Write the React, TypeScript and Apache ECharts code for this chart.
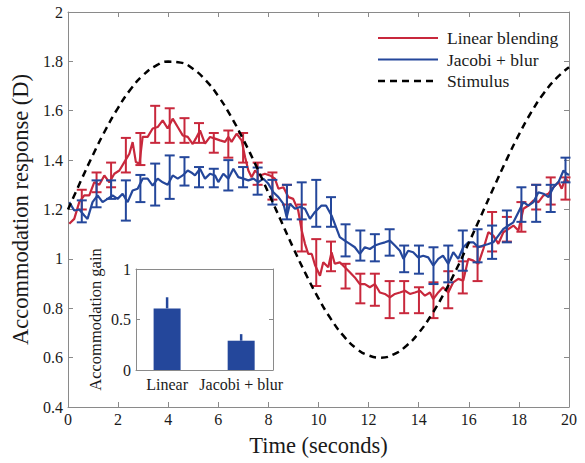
import React, { useEffect, useRef } from "react";
import * as echarts from "echarts";

const FONT = "'Liberation Serif', 'Times New Roman', serif";
const RED = "#c8283c";
const BLUE = "#24479b";
const AXIS = "#8a8a8a";

const linearTime = [0.05,0.25,0.45,0.65,0.85,1.05,1.25,1.45,1.65,1.85,2.05,2.25,2.45,2.58,2.71,2.85,2.98,3.18,3.38,3.58,3.78,3.98,4.18,4.38,4.58,4.78,4.98,5.1,5.27,5.47,5.67,5.87,6.07,6.27,6.4,6.53,6.73,6.93,7.07,7.2,7.33,7.47,7.67,7.86,8.06,8.26,8.4,8.6,8.8,8.99,9.19,9.33,9.46,9.59,9.73,9.86,10.06,10.19,10.39,10.52,10.65,10.85,11.05,11.25,11.45,11.65,11.85,12.05,12.25,12.45,12.65,12.85,13.05,13.25,13.45,13.65,13.85,14.05,14.25,14.45,14.58,14.78,14.97,15.18,15.38,15.58,15.78,15.98,16.18,16.38,16.58,16.78,16.98,17.18,17.38,17.58,17.78,17.98,18.18,18.38,18.58,18.78,18.98,19.18,19.38,19.58,19.71,19.85,20.0];
const linearResponse = [1.142,1.162,1.23,1.257,1.257,1.311,1.3,1.338,1.31,1.345,1.358,1.392,1.426,1.473,1.392,1.385,1.494,1.494,1.528,1.534,1.561,1.528,1.568,1.534,1.5,1.494,1.465,1.487,1.52,1.467,1.494,1.487,1.48,1.474,1.494,1.474,1.507,1.48,1.412,1.358,1.331,1.358,1.338,1.345,1.338,1.325,1.284,1.29,1.25,1.243,1.196,1.115,1.061,1.02,1.02,0.975,0.932,0.986,0.966,1.027,0.98,0.986,0.966,0.946,0.925,0.898,0.898,0.885,0.898,0.864,0.858,0.844,0.858,0.864,0.871,0.858,0.864,0.871,0.851,0.864,0.837,0.864,0.885,0.864,0.905,0.919,0.912,1.0,0.993,0.98,1.04,1.108,1.094,1.061,1.108,1.121,1.135,1.115,1.203,1.216,1.236,1.23,1.257,1.264,1.29,1.311,1.284,1.325,1.31];

const jacobiTime = [0.05,0.25,0.45,0.65,0.78,0.98,1.18,1.38,1.58,1.78,1.98,2.18,2.38,2.58,2.78,2.98,3.18,3.38,3.58,3.78,3.98,4.18,4.38,4.58,4.78,4.92,5.07,5.27,5.47,5.67,5.87,6.0,6.2,6.4,6.6,6.8,7.0,7.2,7.4,7.6,7.8,8.0,8.2,8.4,8.6,8.73,8.86,9.06,9.26,9.46,9.66,9.86,10.12,10.3,10.52,10.65,10.85,11.05,11.25,11.45,11.65,11.85,12.05,12.25,12.45,12.65,12.85,13.05,13.25,13.39,13.58,13.78,13.98,14.18,14.38,14.58,14.78,14.97,15.18,15.38,15.58,15.78,15.98,16.18,16.38,16.58,16.78,16.98,17.18,17.38,17.58,17.78,17.98,18.18,18.38,18.58,18.78,18.98,19.18,19.38,19.58,19.78,19.91,20.0];
const jacobiResponse = [1.23,1.196,1.2,1.176,1.162,1.23,1.257,1.23,1.243,1.257,1.243,1.264,1.23,1.277,1.284,1.325,1.325,1.297,1.325,1.31,1.3,1.338,1.325,1.338,1.358,1.35,1.338,1.365,1.325,1.345,1.338,1.311,1.345,1.325,1.365,1.331,1.325,1.318,1.325,1.311,1.325,1.304,1.27,1.25,1.223,1.169,1.223,1.203,1.21,1.203,1.162,1.19,1.216,1.216,1.176,1.142,1.088,1.074,1.061,1.047,1.02,1.047,1.04,1.054,1.061,1.067,1.074,1.054,1.033,1.0,1.033,1.027,1.006,1.013,1.006,0.973,1.0,1.013,0.98,1.027,1.0,1.047,1.067,1.067,1.047,1.054,1.06,1.067,1.094,1.121,1.135,1.148,1.189,1.23,1.216,1.23,1.27,1.264,1.25,1.29,1.311,1.358,1.345,1.34];

const stimulusTime = [0,0.5,1,1.5,2,2.5,3,3.5,4,4.5,5,5.5,6,6.5,7,7.5,8,8.5,9,9.5,10,10.5,11,11.5,12,12.5,13,13.5,14,14.5,15,15.5,16,16.5,17,17.5,18,18.5,19,19.5,20];
const stimulusResponse = [1.2,1.313,1.422,1.523,1.612,1.687,1.744,1.782,1.799,1.795,1.769,1.723,1.659,1.578,1.483,1.379,1.268,1.155,1.043,0.937,0.84,0.756,0.688,0.638,0.609,0.6,0.613,0.647,0.7,0.772,0.858,0.957,1.065,1.177,1.29,1.4,1.503,1.595,1.672,1.732,1.776];

const errorTime = [0.55,1.14,1.72,2.31,2.89,3.48,4.06,4.65,5.23,5.82,6.4,6.99,7.57,8.16,8.74,9.33,9.91,10.5,11.08,11.67,12.25,12.84,13.42,14.01,14.59,15.18,15.76,16.35,16.93,17.52,18.1,18.69,19.27,19.86];
const linearLow = [1.2,1.27,1.29,1.35,1.38,1.47,1.47,1.47,1.47,1.43,1.41,1.39,1.3,1.24,1.22,1.03,0.89,0.95,0.88,0.82,0.81,0.76,0.78,0.78,0.76,0.8,0.86,0.91,1.03,1.07,1.11,1.2,1.22,1.24];
const linearHigh = [1.28,1.35,1.39,1.49,1.51,1.62,1.61,1.57,1.55,1.51,1.52,1.51,1.39,1.35,1.3,1.22,1.08,1.07,0.98,0.94,0.94,0.91,0.91,0.885,0.905,0.95,0.99,1.05,1.19,1.17,1.23,1.3,1.33,1.33];
const jacobiLow = [1.148,1.209,1.243,1.155,1.23,1.216,1.243,1.297,1.29,1.29,1.277,1.29,1.26,1.22,1.16,1.16,1.13,1.13,1.01,0.993,0.99,1.013,0.946,0.94,0.898,0.905,0.952,0.986,1.0,1.067,1.15,1.15,1.19,1.31];
const jacobiHigh = [1.237,1.318,1.318,1.318,1.34,1.386,1.419,1.412,1.372,1.365,1.4,1.372,1.37,1.32,1.3,1.31,1.32,1.25,1.14,1.115,1.1,1.12,1.054,1.054,1.047,1.054,1.115,1.12,1.135,1.196,1.29,1.3,1.3,1.41];

const gainCategories = ["Linear", "Jacobi + blur"];
const gainValues = [0.61, 0.29];
const gainErrors = [0.11, 0.065];

const legendNames = ["Linear blending", "Jacobi + blur", "Stimulus"];
const xTicks = [0, 2, 4, 6, 8, 10, 12, 14, 16, 18, 20];

function zip(a: number[], b: number[]) {
  return a.map((v, i) => [v, b[i]]);
}

export default function App() {
  const ref = useRef<HTMLDivElement>(null);
  useEffect(() => {
    if (!ref.current) return;
    const chart = echarts.init(ref.current, null, { renderer: "svg" });
    const labelStyle = { fontFamily: FONT, fontSize: 16, color: "#1a1a1a" };
    const errRender = (color: string) => (params: any, api: any) => {
      const x = api.value(0);
      const lo = api.coord([x, api.value(1)]);
      const hi = api.coord([x, api.value(2)]);
      const w = 5;
      const st = { stroke: color, lineWidth: 2 };
      return {
        type: "group",
        children: [
          { type: "line", shape: { x1: lo[0], y1: lo[1], x2: hi[0], y2: hi[1] }, style: st },
          { type: "line", shape: { x1: lo[0] - w, y1: lo[1], x2: lo[0] + w, y2: lo[1] }, style: st },
          { type: "line", shape: { x1: hi[0] - w, y1: hi[1], x2: hi[0] + w, y2: hi[1] }, style: st },
        ],
      };
    };
    const axisLine = { show: true, onZero: false, lineStyle: { color: AXIS, width: 1 } };
    const tickIn = { show: true, inside: true, length: 5, lineStyle: { color: AXIS } };
    const legendColors = [RED, BLUE, "#000000"];
    const legendGraphic: any[] = [];
    legendNames.forEach((name, i) => {
      const y = 38 + i * 21.5;
      legendGraphic.push({
        type: "line",
        shape: { x1: 378, y1: y, x2: 438, y2: y },
        style: { stroke: legendColors[i], lineWidth: i === 2 ? 2.5 : 2, lineDash: i === 2 ? [7, 5] : null },
        z: 10,
      });
      legendGraphic.push({
        type: "text",
        x: 447,
        y: y,
        style: { text: name, fontFamily: FONT, fontSize: 17.5, fill: "#1a1a1a", verticalAlign: "middle", align: "left" },
        z: 10,
      });
    });
    const option: any = {
      animation: false,
      backgroundColor: "#ffffff",
      textStyle: { fontFamily: FONT },
      graphic: legendGraphic,
      grid: [
        { left: 68, top: 12, width: 501, height: 395 },
        { left: 136, top: 269, width: 137, height: 101, show: true, backgroundColor: "#ffffff", borderWidth: 0 },
      ],
      xAxis: [
        {
          type: "value", gridIndex: 0, min: 0, max: 20, interval: 2,
          name: "Time (seconds)", nameLocation: "middle", nameGap: 27,
          nameTextStyle: { fontFamily: FONT, fontSize: 22.5, color: "#1a1a1a" },
          axisLine, axisTick: tickIn,
          axisLabel: { ...labelStyle, margin: 4, customValues: xTicks },
          splitLine: { show: false },
        },
        {
          type: "value", gridIndex: 0, min: 0, max: 20, interval: 2, position: "top",
          axisLine, axisTick: tickIn,
          axisLabel: { show: false }, splitLine: { show: false },
        },
        {
          type: "value", gridIndex: 1, min: -0.42, max: 1.43,
          axisLine, axisTick: { show: false },
          axisLabel: {
            ...labelStyle, margin: 6, customValues: [0, 1],
            formatter: (v: number) => gainCategories[Math.round(v)] ?? "",
          },
          splitLine: { show: false },
        },
        {
          type: "value", gridIndex: 1, min: -0.42, max: 1.43, position: "top",
          axisLine, axisTick: { show: false }, axisLabel: { show: false }, splitLine: { show: false },
        },
      ],
      yAxis: [
        {
          type: "value", gridIndex: 0, min: 0.4, max: 2, interval: 0.2,
          name: "Accommodation response (D)", nameLocation: "middle", nameGap: 28,
          nameTextStyle: { fontFamily: FONT, fontSize: 22.5, color: "#1a1a1a" },
          axisLine, axisTick: tickIn,
          axisLabel: { ...labelStyle, margin: 5, formatter: (v: number) => String(+v.toFixed(1)) },
          splitLine: { show: false },
        },
        {
          type: "value", gridIndex: 0, min: 0.4, max: 2, interval: 0.2, position: "right",
          axisLine, axisTick: tickIn,
          axisLabel: { show: false }, splitLine: { show: false },
        },
        {
          type: "value", gridIndex: 1, min: 0, max: 1, interval: 0.5,
          name: "Accommodation gain", nameLocation: "middle", nameGap: 32,
          nameTextStyle: { fontFamily: FONT, fontSize: 16.5, color: "#1a1a1a" },
          axisLine, axisTick: { ...tickIn, length: 4 },
          axisLabel: { ...labelStyle, margin: 5, formatter: (v: number) => String(+v.toFixed(1)) },
          splitLine: { show: false },
        },
        {
          type: "value", gridIndex: 1, min: 0, max: 1, interval: 0.5, position: "right",
          axisLine, axisTick: { ...tickIn, length: 4 },
          axisLabel: { show: false }, splitLine: { show: false },
        },
      ],
      series: [
        {
          name: "Linear blending", type: "line", xAxisIndex: 0, yAxisIndex: 0,
          data: zip(linearTime, linearResponse), showSymbol: false, symbol: "none",
          lineStyle: { color: RED, width: 2.2 }, itemStyle: { color: RED }, z: 2,
        },
        {
          name: "Jacobi + blur", type: "line", xAxisIndex: 0, yAxisIndex: 0,
          data: zip(jacobiTime, jacobiResponse), showSymbol: false, symbol: "none",
          lineStyle: { color: BLUE, width: 2.2 }, itemStyle: { color: BLUE }, z: 3,
        },
        {
          type: "custom", xAxisIndex: 0, yAxisIndex: 0, z: 2,
          data: errorTime.map((t, i) => [t, linearLow[i], linearHigh[i]]),
          renderItem: errRender(RED),
        },
        {
          type: "custom", xAxisIndex: 0, yAxisIndex: 0, z: 3,
          data: errorTime.map((t, i) => [t, jacobiLow[i], jacobiHigh[i]]),
          renderItem: errRender(BLUE),
        },
        {
          name: "Stimulus", type: "line", xAxisIndex: 0, yAxisIndex: 0,
          data: zip(stimulusTime, stimulusResponse), showSymbol: false, symbol: "none", smooth: true,
          lineStyle: { color: "#000000", width: 2.5, type: [7, 5] }, itemStyle: { color: "#000000" }, z: 4,
        },
        {
          type: "bar", xAxisIndex: 2, yAxisIndex: 2,
          data: gainValues.map((v, i) => [i, v]), barWidth: 27,
          itemStyle: { color: BLUE }, z: 5,
        },
        {
          type: "custom", xAxisIndex: 2, yAxisIndex: 2, z: 6,
          data: gainValues.map((v, i) => [i, v, v + gainErrors[i]]),
          renderItem: (params: any, api: any) => {
            const x = api.value(0);
            const lo = api.coord([x, api.value(1)]);
            const hi = api.coord([x, api.value(2)]);
            return {
              type: "line",
              shape: { x1: lo[0], y1: lo[1], x2: hi[0], y2: hi[1] },
              style: { stroke: BLUE, lineWidth: 2.5 },
            };
          },
        },
      ],
    };
    chart.setOption(option);
    return () => chart.dispose();
  }, []);
  return <div ref={ref} style={{ width: 585, height: 463, position: "absolute", left: 0, top: 0 }} />;
}
